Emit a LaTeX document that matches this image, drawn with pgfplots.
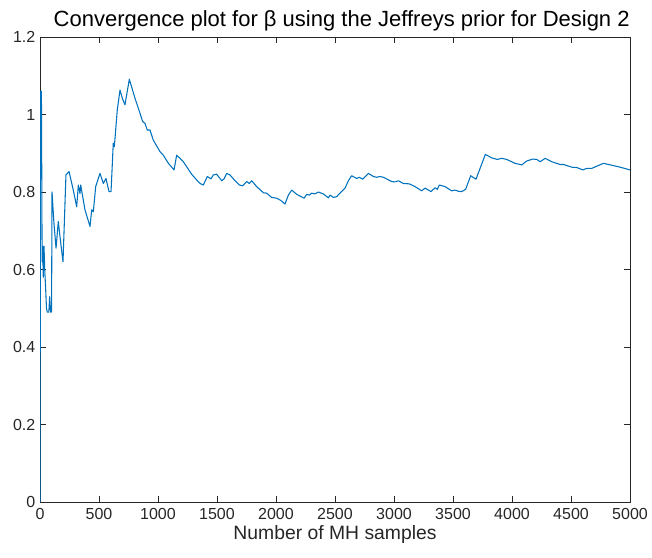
\documentclass[border=0pt]{standalone}
\usepackage{fontspec}
\setmainfont{Liberation Sans}
\usepackage{pgfplots}
\pgfplotsset{compat=1.18}
\definecolor{mblue}{rgb}{0,0.447,0.741}
\definecolor{axgray}{rgb}{0.15,0.15,0.15}
\begin{document}
\begin{tikzpicture}
\begin{axis}[name=ax,
  scale only axis, width=442.5pt, height=348.75pt,
  xmin=0, xmax=5000, ymin=0, ymax=1.2,
  xtick={0,500,...,5000}, ytick={0,0.2,...,1.2},
  yticklabels={0,0.2,0.4,0.6,0.8,1,1.2},
  scaled x ticks=false,
  /pgf/number format/assume math mode=true,
  /pgf/number format/1000 sep={},
  tick align=inside, tick pos=both,
  major tick length=4.5pt,
  axis line style={axgray, line width=0.5pt},
  tick style={axgray, line width=0.5pt},
  ticklabel style={font=\fontsize{12}{14}\selectfont, text=axgray},
  xticklabel style={yshift=-1pt},
  xlabel={Number of MH samples},
  xlabel style={font=\fontsize{14.5}{16}\selectfont, text=axgray, yshift=2pt},
  title={Convergence plot for β using the Jeffreys prior for Design 2},
  title style={font=\fontsize{16.5}{18}\selectfont, yshift=-5pt, xshift=5pt},
  clip=true,
]
\addplot[mblue, line width=0.8pt, line join=round] coordinates {
(0,0) (5,1.06) (12,1.06) (18,0.62) (22,0.66) (28,0.58) (34,0.66) (40,0.60) (48,0.55) (55,0.50) (62,0.49) (75,0.49) (82,0.53) (90,0.49) (98,0.49) (102,0.80)
(118,0.72) (136,0.655) (155,0.724) (175,0.67) (195,0.62) (220,0.844) (246,0.853) (282,0.805) (311,0.762) (325,0.818) (339,0.796) (345,0.818)
(381,0.754) (424,0.711) (438,0.754) (452,0.749) (472,0.814) (508,0.848) (517,0.840) (537,0.822) (559,0.835) (585,0.801) (602,0.801)
(621,0.926) (630,0.917) (655,1.012) (678,1.063) (700,1.04) (720,1.025) (757,1.091) (805,1.042) (840,1.01) (870,0.982) (890,0.977) (909,0.960)
(932,0.960) (960,0.934) (1017,0.904) (1045,0.895) (1088,0.874) (1136,0.857) (1158,0.895) (1215,0.878) (1285,0.846) (1328,0.831)
(1356,0.822) (1384,0.818) (1418,0.84) (1449,0.834) (1469,0.844) (1497,0.846) (1540,0.829) (1560,0.834) (1582,0.848) (1610,0.844)
(1653,0.829) (1690,0.818) (1718,0.816) (1752,0.827) (1774,0.822) (1794,0.829) (1836,0.814) (1893,0.798) (1921,0.797) (1963,0.786)
(2006,0.784) (2042,0.778) (2076,0.769) (2105,0.792) (2133,0.805) (2175,0.794) (2238,0.784) (2260,0.794) (2283,0.792) (2302,0.797)
(2330,0.795) (2359,0.800) (2401,0.795) (2444,0.785) (2458,0.792) (2486,0.786) (2514,0.788) (2542,0.797) (2585,0.810) (2613,0.829)
(2641,0.842) (2684,0.835) (2706,0.838) (2734,0.833) (2783,0.848) (2825,0.840) (2853,0.838) (2881,0.840) (2910,0.838) (2980,0.827)
(3009,0.826) (3037,0.829) (3079,0.822) (3130,0.821) (3178,0.814) (3235,0.803) (3263,0.810) (3314,0.801) (3348,0.811) (3367,0.807)
(3384,0.818) (3432,0.814) (3489,0.803) (3517,0.805) (3545,0.802) (3574,0.801) (3607,0.807) (3650,0.842) (3695,0.833) (3774,0.897)
(3828,0.888) (3876,0.884) (3913,0.887) (3955,0.884) (4026,0.874) (4083,0.870) (4125,0.880) (4176,0.885) (4210,0.884) (4239,0.878)
(4281,0.887) (4337,0.878) (4408,0.871) (4437,0.871) (4507,0.864) (4550,0.863) (4600,0.857) (4634,0.861) (4676,0.861) (4775,0.874)
(4832,0.870) (4917,0.864) (5000,0.857)
};
\end{axis}
\pgfresetboundingbox
\path ([shift={(-30pt,-41.25pt)}]ax.south west) rectangle ([shift={(16.5pt,27.75pt)}]ax.north east);
\end{tikzpicture}
\end{document}
